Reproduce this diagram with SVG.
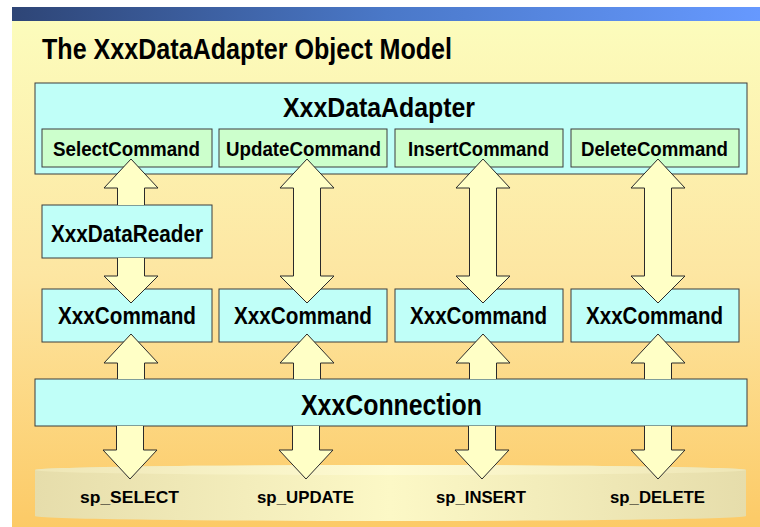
<svg xmlns="http://www.w3.org/2000/svg" width="760" height="527" viewBox="0 0 760 527">
  <defs>
    <linearGradient id="bar" x1="0" y1="0" x2="1" y2="0">
      <stop offset="0" stop-color="#2e4576"/>
      <stop offset="0.5" stop-color="#4a78c8"/>
      <stop offset="1" stop-color="#6699ff"/>
    </linearGradient>
    <linearGradient id="bg" x1="0" y1="0" x2="0" y2="1">
      <stop offset="0" stop-color="#fcfcbc"/>
      <stop offset="0.5" stop-color="#fde6a2"/>
      <stop offset="1" stop-color="#fcca66"/>
    </linearGradient>
    <linearGradient id="drum" x1="0" y1="0" x2="1" y2="0">
      <stop offset="0" stop-color="#e6ddab"/>
      <stop offset="0.5" stop-color="#fcf8c6"/>
      <stop offset="1" stop-color="#e6ddab"/>
    </linearGradient>
    <linearGradient id="drumTop" x1="0" y1="0" x2="1" y2="0">
      <stop offset="0" stop-color="#eee6b6"/>
      <stop offset="0.5" stop-color="#fefbd2"/>
      <stop offset="1" stop-color="#eee6b6"/>
    </linearGradient>
  </defs>
  <style>
    .cyan { fill: #c0fff8; stroke: #3c3c3c; stroke-width: 1; }
    .green { fill: #ccffcc; stroke: #3c3c3c; stroke-width: 1; }
    .arrow { fill: #ffffc6; stroke: #2a2a2a; stroke-width: 1; stroke-linejoin: miter; }
    text { font-family: "Liberation Sans", Arial, sans-serif; font-weight: bold; fill: #000; }
    .title { font-size: 29px; }
    .big { font-size: 27px; }
    .conn { font-size: 29px; }
    .cmd { font-size: 20px; }
    .obj { font-size: 23px; }
    .reader { font-size: 24px; }
    .sp { font-size: 17px; }
  </style>

  <!-- slide background -->
  <rect x="0" y="0" width="760" height="527" fill="#ffffff"/>
  <rect x="12" y="21" width="748" height="506" fill="url(#bg)"/>
  <rect x="12" y="7" width="748" height="14" fill="url(#bar)"/>

  <text class="title" x="42" y="59" textLength="410" lengthAdjust="spacingAndGlyphs">The XxxDataAdapter Object Model</text>

  <!-- stored procedures drum -->
  <g id="procedures">
    <path d="M35,470 A355.5,5 0 0 1 746,470 V516 A355.5,5 0 0 1 35,516 Z" fill="url(#drum)"/>
    <ellipse cx="390.5" cy="470" rx="355.5" ry="5" fill="url(#drumTop)"/>
  </g>

  <!-- data adapter with its four command properties -->
  <g id="adapter">
    <rect class="cyan" x="35" y="83" width="712" height="91"/>
    <text class="big" x="283" y="117" textLength="192" lengthAdjust="spacingAndGlyphs">XxxDataAdapter</text>
  </g>
  <g id="selectCommand">
    <rect class="green" x="42" y="129" width="170" height="38"/>
    <text class="cmd" x="53" y="156" textLength="147" lengthAdjust="spacingAndGlyphs">SelectCommand</text>
  </g>
  <g id="updateCommand">
    <rect class="green" x="219" y="129" width="168" height="38"/>
    <text class="cmd" x="226" y="156" textLength="155" lengthAdjust="spacingAndGlyphs">UpdateCommand</text>
  </g>
  <g id="insertCommand">
    <rect class="green" x="395" y="129" width="168" height="38"/>
    <text class="cmd" x="408" y="156" textLength="141" lengthAdjust="spacingAndGlyphs">InsertCommand</text>
  </g>
  <g id="deleteCommand">
    <rect class="green" x="571" y="129" width="168" height="38"/>
    <text class="cmd" x="581" y="156" textLength="147" lengthAdjust="spacingAndGlyphs">DeleteCommand</text>
  </g>

  <!-- reader -->
  <g id="dataReader">
    <rect class="cyan" x="42" y="205" width="170" height="53"/>
    <text class="reader" x="51" y="242" textLength="152" lengthAdjust="spacingAndGlyphs">XxxDataReader</text>
  </g>

  <!-- command objects -->
  <g id="command1">
    <rect class="cyan" x="42" y="289" width="170" height="53"/>
    <text class="obj" x="58" y="324" textLength="138" lengthAdjust="spacingAndGlyphs">XxxCommand</text>
  </g>
  <g id="command2">
    <rect class="cyan" x="219" y="289" width="168" height="53"/>
    <text class="obj" x="234" y="324" textLength="138" lengthAdjust="spacingAndGlyphs">XxxCommand</text>
  </g>
  <g id="command3">
    <rect class="cyan" x="395" y="289" width="168" height="53"/>
    <text class="obj" x="410" y="324" textLength="137" lengthAdjust="spacingAndGlyphs">XxxCommand</text>
  </g>
  <g id="command4">
    <rect class="cyan" x="571" y="289" width="168" height="53"/>
    <text class="obj" x="586" y="324" textLength="137" lengthAdjust="spacingAndGlyphs">XxxCommand</text>
  </g>

  <!-- connection -->
  <g id="connection">
    <rect class="cyan" x="35" y="379" width="712" height="47"/>
    <text class="conn" x="301" y="415" textLength="181" lengthAdjust="spacingAndGlyphs">XxxConnection</text>
  </g>

  <!-- block arrows -->
  <g id="connectors">
    <!-- reader up to SelectCommand, command down to reader -->
    <path class="arrow" d="M117.5,205 V188 H104 L131,159 L158,188 H144.5 V205"/>
    <path class="arrow" d="M117.5,258 V276 H104 L131,303 L158,276 H144.5 V258"/>
    <!-- two-way arrows between adapter commands and command objects -->
    <path class="arrow" d="M307,159 L334,188 H320.5 V276 H334 L307,303 L280,276 H293.5 V188 H280 Z"/>
    <path class="arrow" d="M483,159 L510,188 H496.5 V276 H510 L483,303 L456,276 H469.5 V188 H456 Z"/>
    <path class="arrow" d="M658,159 L685,188 H671.5 V276 H685 L658,303 L631,276 H644.5 V188 H631 Z"/>
    <!-- connection up to each command -->
    <path class="arrow" d="M117.5,379 V363 H104 L131,334 L158,363 H144.5 V379"/>
    <path class="arrow" d="M293.5,379 V363 H280 L307,334 L334,363 H320.5 V379"/>
    <path class="arrow" d="M469.5,379 V363 H456 L483,334 L510,363 H496.5 V379"/>
    <path class="arrow" d="M644.5,379 V363 H631 L658,334 L685,363 H671.5 V379"/>
    <!-- connection down to stored procedures -->
    <path class="arrow" d="M116.5,426 V450 H103 L130,479 L157,450 H143.5 V426"/>
    <path class="arrow" d="M292.5,426 V450 H279 L306,479 L333,450 H319.5 V426"/>
    <path class="arrow" d="M468.5,426 V450 H455 L482,479 L509,450 H495.5 V426"/>
    <path class="arrow" d="M644.5,426 V450 H631 L658,479 L685,450 H671.5 V426"/>
  </g>

  <!-- procedure names -->
  <g id="procNames">
    <text class="sp" x="80" y="503" textLength="99" lengthAdjust="spacingAndGlyphs">sp_SELECT</text>
    <text class="sp" x="257" y="503" textLength="97" lengthAdjust="spacingAndGlyphs">sp_UPDATE</text>
    <text class="sp" x="436" y="503" textLength="90" lengthAdjust="spacingAndGlyphs">sp_INSERT</text>
    <text class="sp" x="610" y="503" textLength="95" lengthAdjust="spacingAndGlyphs">sp_DELETE</text>
  </g>
</svg>
